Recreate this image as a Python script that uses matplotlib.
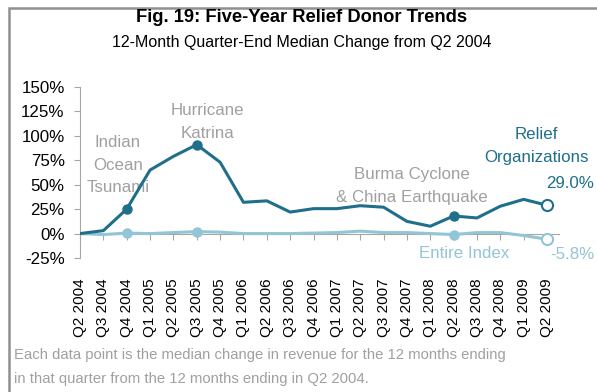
import matplotlib.pyplot as plt
from matplotlib.patches import Rectangle

plt.rcParams['font.family'] = ['Liberation Sans', 'DejaVu Sans']

quarters = ['Q2 2004', 'Q3 2004', 'Q4 2004', 'Q1 2005', 'Q2 2005', 'Q3 2005',
            'Q4 2005', 'Q1 2006', 'Q2 2006', 'Q3 2006', 'Q4 2006', 'Q1 2007',
            'Q2 2007', 'Q3 2007', 'Q4 2007', 'Q1 2008', 'Q2 2008', 'Q3 2008',
            'Q4 2008', 'Q1 2009', 'Q2 2009']
relief = [0, 3, 25, 65, 79, 91, 73, 32, 33.5, 22, 25.5, 25.5,
          28.5, 27, 12.5, 7.5, 18, 16, 28, 35, 29.0]
entire = [0, -1, 0.5, 0, 1, 2, 1.5, 0, 0, 0, 0.5, 1,
          2.5, 1, 1, 0, -1, 1, 1, -2, -5.8]
event_idx = [2, 5, 16]

dark = '#1F6F8B'
light = '#92C5D5'
grey_txt = '#A0A0A0'
axis_col = '#A6A6A6'
fs = 12.2

fig = plt.figure(figsize=(5.97, 3.92), dpi=100)
ax = fig.add_axes([80 / 597, 1 - 258 / 392, (558.7 - 80) / 597, (258 - 87) / 392])

# x axis line sits on 0%, labels stay at the bottom
for s in ['top', 'right']:
    ax.spines[s].set_visible(False)
ax.spines['bottom'].set_position(('data', 0))
ax.spines['left'].set_color(axis_col)
ax.spines['bottom'].set_color(axis_col)

x = list(range(len(quarters)))
ax.plot(x, entire, color=light, lw=2.2, zorder=3)
ax.plot(x, relief, color=dark, lw=2.2, zorder=4)
ax.plot([x[i] for i in event_idx], [entire[i] for i in event_idx], 'o',
        color=light, ms=6.5, zorder=5)
ax.plot([x[i] for i in event_idx], [relief[i] for i in event_idx], 'o',
        color=dark, ms=6.5, zorder=5)
ax.plot(x[-1], entire[-1], 'o', mfc='white', mec=light, mew=1.5, ms=8, zorder=6)
ax.plot(x[-1], relief[-1], 'o', mfc='white', mec=dark, mew=1.5, ms=8, zorder=6)

ax.set_xlim(0, 20.5)
ax.set_ylim(-25, 150)
ax.set_yticks(range(-25, 151, 25))
ax.set_yticklabels([f'{v}%' for v in range(-25, 151, 25)], fontsize=fs)
ax.set_xticks(x)
ax.set_xticklabels(quarters, rotation=90, fontsize=11)
ax.tick_params(axis='y', colors=axis_col, labelcolor='black', length=4, pad=7)
ax.tick_params(axis='x', colors=axis_col, labelcolor='black', length=4, pad=28)

ax.text(1.63, 70, 'Indian\nOcean\nTsunami', ha='center', va='center',
        color=grey_txt, fontsize=fs, linespacing=1.65)
ax.text(5.45, 114, 'Hurricane\nKatrina', ha='center', va='center',
        color=grey_txt, fontsize=fs, linespacing=1.65)
ax.text(14.2, 49, 'Burma Cyclone\n& China Earthquake', ha='center', va='center',
        color=grey_txt, fontsize=fs, linespacing=1.65)
ax.text(19.55, 90, 'Relief\nOrganizations', ha='center', va='center',
        color=dark, fontsize=fs, linespacing=1.65, clip_on=False)
ax.text(21.0, 51, f'{relief[-1]:.1f}%', ha='center', va='center',
        color=dark, fontsize=fs, clip_on=False)
ax.text(16.45, -20.5, 'Entire Index', ha='center', va='center',
        color=light, fontsize=fs)
ax.text(21.1, -21, f'{entire[-1]:.1f}%', ha='center', va='center',
        color=light, fontsize=fs, clip_on=False)

fig.text(0.505, 1 - 17 / 392, 'Fig. 19: Five-Year Relief Donor Trends',
         ha='center', va='center', fontsize=13.2, fontweight='bold')
fig.text(0.505, 1 - 42 / 392, '12-Month Quarter-End Median Change from Q2 2004',
         ha='center', va='center', fontsize=11.5)
fig.text(14 / 597, 1 - 355 / 392,
         'Each data point is the median change in revenue for the 12 months ending',
         ha='left', va='center', color=grey_txt, fontsize=10.7)
fig.text(14 / 597, 1 - 379 / 392,
         'in that quarter from the 12 months ending in Q2 2004.',
         ha='left', va='center', color=grey_txt, fontsize=10.7)

fig.patches.append(Rectangle((9 / 597, -0.1), 1.2, 1 - 8.5 / 392 + 0.1,
                             transform=fig.transFigure, fill=False,
                             edgecolor='#909090', lw=1.8))

fig.savefig('out.png', dpi=100)
